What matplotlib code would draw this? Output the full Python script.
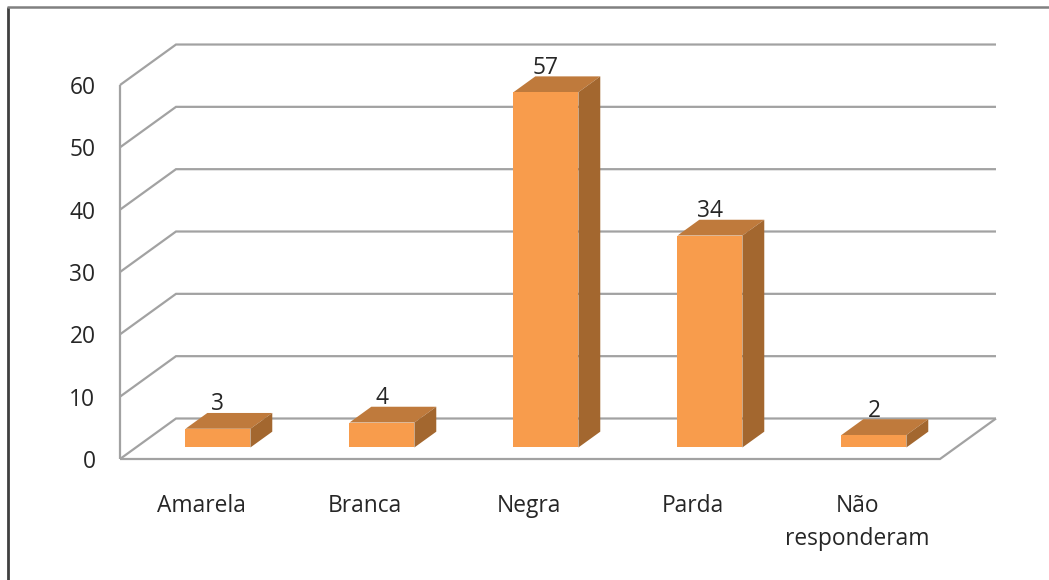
import matplotlib
matplotlib.use("Agg")
import matplotlib.pyplot as plt
from matplotlib.patches import Polygon

categories = ["Amarela", "Branca", "Negra", "Parda", "Não\nresponderam"]
values = [3, 4, 57, 34, 2]
y_ticks = [0, 10, 20, 30, 40, 50, 60]

W, H = 1049, 580
PX_X = 164.0          # pixels per category
PX_Y = 6.233          # pixels per value unit
X0_PX, Y0_PX = 202.0, 459.0

DEPTH_X = 56 / PX_X   # oblique shift of the back wall
DEPTH_Y = 40.5 / PX_Y
BAR_D0, BAR_D1 = 0.285, 0.675
HALF = 0.198
GRID = "#a2a2a2"
TEXT = "#262626"
FRONT, TOP, SIDE = "#f89c4c", "#bf7a3c", "#a3672f"
FS = 16.4

plt.rcParams["font.family"] = ["Open Sans", "DejaVu Sans"]
fig = plt.figure(figsize=(W / 100, H / 100), dpi=100, facecolor="white")
ax = fig.add_axes([0, 0, 1, 1])
ax.set_xlim(-X0_PX / PX_X, (W - X0_PX) / PX_X)
ax.set_ylim((Y0_PX - H) / PX_Y, Y0_PX / PX_Y)
ax.axis("off")


def pr(x, y, d=0.0):
    return (x + d * DEPTH_X, y + d * DEPTH_Y)


L, R = -0.5, len(categories) - 0.5
line = dict(color=GRID, lw=1.6, solid_capstyle="butt", solid_joinstyle="miter", zorder=1)
for t in y_ticks:
    xs, ys = zip(pr(L, t, 0), pr(L, t, 1), pr(R, t, 1))
    ax.plot(xs, ys, **line)
    ax.text(-0.65, t, str(t), ha="right", va="center_baseline",
            fontsize=FS, color=TEXT, zorder=5)
xs, ys = zip(pr(L, y_ticks[0]), pr(L, y_ticks[-1]))
ax.plot(xs, ys, **line)
xs, ys = zip(pr(L, 0), pr(R, 0), pr(R, 0, 1))
ax.plot(xs, ys, **line)

for i, (cat, v) in enumerate(zip(categories, values)):
    a, b = i - HALF, i + HALF
    ax.add_patch(Polygon([pr(a, v, BAR_D0), pr(b, v, BAR_D0), pr(b, v, BAR_D1), pr(a, v, BAR_D1)],
                         fc=TOP, ec="none", zorder=3))
    ax.add_patch(Polygon([pr(b, 0, BAR_D0), pr(b, 0, BAR_D1), pr(b, v, BAR_D1), pr(b, v, BAR_D0)],
                         fc=SIDE, ec="none", zorder=3))
    ax.add_patch(Polygon([pr(a, 0, BAR_D0), pr(b, 0, BAR_D0), pr(b, v, BAR_D0), pr(a, v, BAR_D0)],
                         fc=FRONT, ec="none", zorder=4))
    xc, yt = pr(i, v, BAR_D0)
    ax.text(xc, yt + 4.4, str(v), ha="center", va="center_baseline",
            fontsize=FS, color=TEXT, zorder=5)
    ax.text(i - 0.005, -5.6, cat, ha="center", va="top", fontsize=FS, color=TEXT,
            linespacing=1.5, zorder=5)

# outer frame of the pasted picture (left and top edges)
ax.plot([0.0075, 0.0075], [0, 0.988], transform=ax.transAxes, color="#404040", lw=2.0, zorder=6,
        solid_capstyle="butt")
ax.plot([0.0065, 1], [0.988, 0.988], transform=ax.transAxes, color="#808080", lw=1.8, zorder=6,
        solid_capstyle="butt")

fig.savefig("out.png", dpi=100, facecolor="white")
